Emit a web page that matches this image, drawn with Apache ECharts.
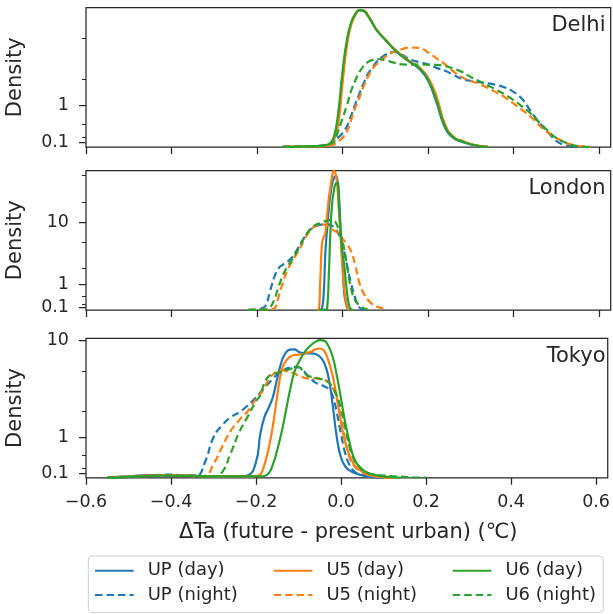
<!DOCTYPE html>
<html><head><meta charset="utf-8">
<script src="https://cdn.jsdelivr.net/npm/echarts@6/dist/echarts.min.js"></script>
<style>html,body{margin:0;padding:0;background:#fff}#c{width:613px;height:614px}</style>
</head><body><div id="c"></div>
<script>
// ---------- data ----------
const xTicks = [-0.6, -0.4, -0.2, 0, 0.2, 0.4, 0.6];
const yMajorTicks = [0.1, 1, 10];
const yMinorTicks = [0.2, 0.5, 2, 5, 20, 50];
const cities = ['Delhi', 'London', 'Tokyo'];
const seriesNames = ['UP (day)', 'UP (night)', 'U5 (day)', 'U5 (night)', 'U6 (day)', 'U6 (night)'];

// Delhi
const delhiX = [-0.14, -0.10, -0.06, -0.04, -0.03, -0.02, -0.01, 0.00, 0.01, 0.02, 0.03, 0.04, 0.05, 0.06, 0.07, 0.08, 0.10, 0.12, 0.14, 0.16, 0.18, 0.20, 0.22, 0.24, 0.26, 0.28, 0.30, 0.32, 0.34, 0.36, 0.38, 0.40, 0.42, 0.44, 0.46, 0.48, 0.50, 0.52, 0.54, 0.56, 0.58];
const delhiUPday = [0.002, 0.007, 0.018, 0.035, 0.06, 0.18, 0.65, 2.1, 4.5, 6.9, 8.4, 9.3, 9.15, 8.2, 7.05, 6.05, 4.9, 4.0, 3.4, 2.95, 2.55, 1.95, 1.1, 0.42, 0.19, 0.11, 0.055, 0.02, 0.005, 0, 0, 0, 0, 0, 0, 0, 0, 0, 0, 0, 0];
const delhiU5day = [0.002, 0.006, 0.015, 0.03, 0.05, 0.15, 0.5, 1.8, 4.2, 6.7, 8.3, 9.3, 9.2, 8.3, 7.1, 6.1, 4.95, 4.05, 3.45, 3.0, 2.65, 2.1, 1.3, 0.5, 0.22, 0.13, 0.065, 0.025, 0.006, 0, 0, 0, 0, 0, 0, 0, 0, 0, 0, 0, 0];
const delhiU6day = [0.002, 0.008, 0.02, 0.04, 0.07, 0.22, 0.8, 2.4, 4.8, 7.1, 8.6, 9.3, 9.1, 8.1, 7.0, 6.0, 4.9, 4.0, 3.4, 2.95, 2.6, 2.0, 1.15, 0.45, 0.2, 0.12, 0.06, 0.02, 0.005, 0, 0, 0, 0, 0, 0, 0, 0, 0, 0, 0, 0];
const delhiUPnight = [0.001, 0.005, 0.015, 0.03, 0.05, 0.11, 0.2, 0.3, 0.45, 0.72, 1.05, 1.42, 1.85, 2.3, 2.65, 3.0, 3.5, 3.75, 3.5, 3.15, 2.98, 2.83, 2.62, 2.45, 2.22, 2.02, 1.93, 1.87, 1.82, 1.75, 1.64, 1.47, 1.22, 0.85, 0.55, 0.33, 0.13, 0.04, 0.01, 0.003, 0];
const delhiU5night = [0.001, 0.004, 0.01, 0.02, 0.03, 0.06, 0.12, 0.2, 0.33, 0.6, 0.95, 1.28, 1.72, 2.15, 2.55, 2.85, 3.35, 3.74, 4.0, 4.13, 4.1, 3.7, 3.25, 2.83, 2.4, 2.1, 1.93, 1.8, 1.62, 1.45, 1.27, 1.07, 0.88, 0.7, 0.48, 0.32, 0.2, 0.1, 0.04, 0.015, 0.003];
const delhiU6night = [0.002, 0.006, 0.02, 0.04, 0.07, 0.12, 0.35, 0.65, 1.0, 1.5, 1.95, 2.4, 2.75, 3.0, 3.13, 3.2, 3.12, 2.95, 2.83, 2.82, 2.82, 2.82, 2.8, 2.72, 2.57, 2.38, 2.12, 1.92, 1.73, 1.55, 1.37, 1.18, 0.98, 0.78, 0.55, 0.36, 0.19, 0.1, 0.035, 0.008, 0.002];

// London
const londonDayX = [-0.07, -0.06, -0.056, -0.052, -0.048, -0.044, -0.040, -0.036, -0.032, -0.028, -0.024, -0.020, -0.016, -0.012, -0.008, -0.004, 0.000, 0.004, 0.008, 0.012, 0.016, 0.020, 0.024, 0.03, 0.04];
const londonUPday = [0, 0, 0.002, 0.005, 0.05, 0.6, 3.5, 8, 16, 27, 38, 46, 49, 44, 24, 7, 2.2, 0.6, 0.25, 0.03, 0.005, 0, 0, 0, 0];
const londonU5day = [0, 0.002, 0.01, 1.2, 4.8, 6.0, 7.0, 13, 23, 34, 50, 59, 53, 34, 13.5, 5.5, 2.2, 0.85, 0.27, 0.06, 0.01, 0, 0, 0, 0];
const londonU6day = [0, 0, 0.002, 0.003, 0.005, 0.01, 0.02, 0.05, 1.5, 8, 20, 30, 38, 39, 16.5, 7, 3.5, 2.2, 1.1, 0.45, 0.13, 0.03, 0.005, 0, 0];
const londonNightX = [-0.24, -0.22, -0.20, -0.19, -0.18, -0.17, -0.16, -0.15, -0.14, -0.13, -0.12, -0.11, -0.10, -0.09, -0.08, -0.07, -0.06, -0.05, -0.04, -0.03, -0.02, -0.01, 0.00, 0.01, 0.02, 0.03, 0.04, 0.05, 0.06, 0.07, 0.08, 0.09, 0.10];
const londonUPnight = [0, 0.005, 0.02, 0.05, 0.15, 0.65, 1.35, 1.95, 2.25, 2.5, 2.85, 3.55, 4.58, 5.9, 7.25, 8.3, 8.95, 9.3, 9.4, 9.23, 8.5, 6.9, 4.7, 2.3, 1.05, 0.42, 0.08, 0.01, 0.002, 0, 0, 0, 0];
const londonU5night = [0, 0.002, 0.01, 0.015, 0.02, 0.03, 0.05, 0.45, 1.05, 1.75, 2.4, 3.1, 4.0, 5.4, 6.9, 8.3, 9.1, 9.4, 9.2, 8.4, 7.6, 6.9, 5.7, 4.8, 3.7, 2.2, 1.03, 0.59, 0.35, 0.2, 0.12, 0.07, 0.02];
const londonU6night = [0, 0.003, 0.008, 0.01, 0.015, 0.08, 0.35, 0.85, 1.45, 2.05, 2.6, 3.3, 4.3, 5.8, 7.3, 8.6, 9.4, 9.95, 10.5, 10.9, 10.6, 8.2, 5.2, 2.3, 0.8, 0.33, 0.15, 0.06, 0.01, 0, 0, 0, 0];

// Tokyo
const tokyoX = [-0.60, -0.55, -0.50, -0.45, -0.40, -0.36, -0.34, -0.32, -0.30, -0.28, -0.26, -0.24, -0.22, -0.20, -0.19, -0.18, -0.17, -0.16, -0.15, -0.14, -0.13, -0.12, -0.11, -0.10, -0.09, -0.08, -0.07, -0.06, -0.05, -0.04, -0.03, -0.02, -0.01, 0.00, 0.01, 0.02, 0.03, 0.04, 0.06, 0.08, 0.10, 0.12, 0.14, 0.16, 0.18, 0.20];
const tokyoUPday = [0, 0.01, 0.03, 0.06, 0.04, 0.05, 0.04, 0.03, 0.03, 0.03, 0.03, 0.03, 0.05, 0.35, 1.1, 1.75, 2.2, 2.85, 4.3, 6.2, 7.6, 8.1, 8.15, 7.75, 7.5, 7.45, 7.45, 7.35, 6.95, 6.1, 4.5, 2.4, 1.0, 0.45, 0.25, 0.16, 0.11, 0.08, 0.03, 0.01, 0.003, 0, 0, 0, 0, 0];
const tokyoU5day = [0, 0.01, 0.02, 0.05, 0.06, 0.05, 0.04, 0.03, 0.03, 0.03, 0.03, 0.03, 0.03, 0.04, 0.07, 0.3, 0.7, 1.42, 2.9, 5.1, 6.3, 6.9, 7.2, 7.25, 7.35, 7.55, 7.75, 8.15, 8.3, 7.9, 6.4, 4.6, 2.8, 1.5, 0.85, 0.5, 0.3, 0.2, 0.08, 0.03, 0.01, 0.003, 0, 0, 0, 0];
const tokyoU6day = [0, 0.005, 0.02, 0.04, 0.05, 0.04, 0.04, 0.03, 0.03, 0.03, 0.03, 0.03, 0.03, 0.03, 0.03, 0.04, 0.1, 0.3, 0.65, 1.15, 2.0, 3.3, 4.9, 6.1, 7.2, 8.2, 9.0, 9.6, 9.95, 9.85, 8.8, 7.0, 4.6, 2.7, 1.5, 0.85, 0.45, 0.28, 0.12, 0.06, 0.03, 0.012, 0.004, 0, 0, 0];
const tokyoUPnight = [0, 0.005, 0.01, 0.05, 0.07, 0.05, 0.05, 0.35, 1.0, 1.4, 1.73, 1.95, 2.3, 2.8, 3.1, 3.5, 3.85, 4.3, 4.7, 5.0, 5.3, 5.45, 5.55, 5.5, 5.2, 4.6, 4.2, 3.9, 3.75, 3.6, 3.4, 2.9, 1.95, 1.1, 0.55, 0.28, 0.15, 0.09, 0.04, 0.015, 0.005, 0, 0, 0, 0, 0];
const tokyoU5night = [0, 0.01, 0.03, 0.05, 0.05, 0.04, 0.03, 0.04, 0.3, 0.72, 1.2, 1.6, 2.0, 2.7, 3.0, 3.5, 4.2, 4.7, 5.0, 5.2, 5.05, 4.95, 4.8, 4.55, 4.4, 4.3, 4.3, 4.3, 4.25, 4.15, 3.95, 3.5, 2.7, 1.7, 0.9, 0.45, 0.27, 0.18, 0.08, 0.035, 0.012, 0.004, 0, 0, 0, 0];
const tokyoU6night = [0, 0.005, 0.02, 0.04, 0.05, 0.04, 0.04, 0.03, 0.03, 0.12, 0.55, 1.15, 1.75, 2.55, 2.95, 3.9, 4.5, 4.75, 4.85, 4.98, 5.15, 5.25, 5.5, 5.5, 5.1, 4.6, 4.45, 4.35, 4.25, 4.15, 3.95, 3.55, 2.9, 2.1, 1.3, 0.72, 0.42, 0.27, 0.11, 0.07, 0.05, 0.035, 0.025, 0.015, 0.007, 0.003];

// ---------- chart ----------
const FONT = 'DejaVu Sans';
const INK = '#262626';
const COLORS = {UP: '#1f77b4', U5: '#ff7f0e', U6: '#2ca02c'};
// panel layout (pixels) and upper limit of the asinh-scaled y axis
const layout = [
  {top: 7.5, height: 139.5, ymax: 2.98},
  {top: 170.5, height: 139.5, ymax: 4.78},
  {top: 338.3, height: 139.5, ymax: 3.035}
];
const XMIN = -0.6, XMAX = 0.6274;

const defs = [
  [0, 'UP (day)', delhiX, delhiUPday], [0, 'UP (night)', delhiX, delhiUPnight],
  [0, 'U5 (day)', delhiX, delhiU5day], [0, 'U5 (night)', delhiX, delhiU5night],
  [0, 'U6 (day)', delhiX, delhiU6day], [0, 'U6 (night)', delhiX, delhiU6night],
  [1, 'UP (day)', londonDayX, londonUPday], [1, 'UP (night)', londonNightX, londonUPnight],
  [1, 'U5 (day)', londonDayX, londonU5day], [1, 'U5 (night)', londonNightX, londonU5night],
  [1, 'U6 (day)', londonDayX, londonU6day], [1, 'U6 (night)', londonNightX, londonU6night],
  [2, 'UP (day)', tokyoX, tokyoUPday], [2, 'UP (night)', tokyoX, tokyoUPnight],
  [2, 'U5 (day)', tokyoX, tokyoU5day], [2, 'U5 (night)', tokyoX, tokyoU5night],
  [2, 'U6 (day)', tokyoX, tokyoU6day], [2, 'U6 (night)', tokyoX, tokyoU6night]
];

const fmtX = v => (Math.abs(v) < 1e-9 ? '0.0' : (v < 0 ? '\u2212' : '') + Math.abs(v).toFixed(1));
const fmtY = v => {
  let best = yMajorTicks[0];
  yMajorTicks.forEach(t => { if (Math.abs(Math.asinh(t) - v) < Math.abs(Math.asinh(best) - v)) best = t; });
  return String(best);
};

const grids = [], xAxes = [], yAxes = [];
layout.forEach((p, i) => {
  grids.push({left: 86, right: 2.3, top: p.top, height: p.height, show: true,
    borderColor: INK, borderWidth: 1.25, backgroundColor: 'transparent'});
  xAxes.push({type: 'value', gridIndex: i, min: XMIN, max: XMAX, position: 'bottom',
    axisLine: {show: false, onZero: false}, splitLine: {show: false},
    axisTick: {show: true, length: 7, customValues: xTicks, lineStyle: {color: INK, width: 1.25}},
    axisLabel: {show: i === 2, customValues: xTicks, formatter: fmtX, margin: 16,
      fontSize: 17.5, fontFamily: FONT, color: INK}});
  const maj = yMajorTicks.map(Math.asinh).filter(v => v <= p.ymax);
  const min = yMinorTicks.map(Math.asinh).filter(v => v <= p.ymax);
  yAxes.push({type: 'value', gridIndex: i, min: 0, max: p.ymax, position: 'left', offset: 0,
    axisLine: {show: false, onZero: false}, splitLine: {show: false},
    axisTick: {show: true, length: 7, customValues: maj, lineStyle: {color: INK, width: 1.25}},
    axisLabel: {show: true, customValues: maj, formatter: fmtY, margin: 17,
      fontSize: 17.5, fontFamily: FONT, color: INK}});
  yAxes.push({type: 'value', gridIndex: i, min: 0, max: p.ymax, position: 'left', offset: 0,
    axisLine: {show: false, onZero: false}, splitLine: {show: false},
    axisTick: {show: true, length: 4, customValues: min, lineStyle: {color: INK, width: 1}},
    axisLabel: {show: false}});
});

// only the part of each curve where the density estimate is positive is drawn
const series = defs.map(([pi, name, xs, ys]) => {
  const key = name.slice(0, 2);
  const night = name.indexOf('night') >= 0;
  const pts = [];
  xs.forEach((x, k) => { if (ys[k] > 0) pts.push([x, Math.asinh(ys[k])]); });
  return {
    type: 'line', name: name, xAxisIndex: pi, yAxisIndex: pi * 2,
    data: pts,
    showSymbol: false, symbol: 'none', smooth: 0.5,
    color: COLORS[key],
    lineStyle: {color: COLORS[key], width: 2.2, type: night ? [7.5, 4] : 'solid', cap: 'butt'},
    emphasis: {disabled: true}, silent: true
  };
});

const legendCols = [94, 272.7, 451.7];
const legendRows = [559.7, 584];
const legends = [];
['UP', 'U5', 'U6'].forEach((k, c) => {
  ['day', 'night'].forEach((d, r) => {
    legends.push({show: true, data: [k + ' (' + d + ')'], left: legendCols[c], top: legendRows[r],
      orient: 'horizontal', padding: 0, itemGap: 0, itemWidth: 38.7, itemHeight: 14,
      selectedMode: false,
      itemStyle: {opacity: 0, color: 'rgba(0,0,0,0)', borderWidth: 0},
      textStyle: {fontSize: 18, fontFamily: FONT, color: INK, lineHeight: 22, padding: [0, 0, 0, 9]}});
  });
});

const txt = (x, y, text, size, align, rot) => ({type: 'text', x: x, y: y, rotation: rot || 0, silent: true,
  style: {text: text, fontSize: size, fontFamily: FONT, fill: INK, align: align, verticalAlign: 'middle'}});

const graphic = [
  {type: 'rect', z: 0, silent: true, shape: {x: 88.3, y: 556, width: 515, height: 56.7, r: 4},
    style: {fill: 'rgba(255,255,255,0.8)', stroke: '#cccccc', lineWidth: 1}},
  txt(605.5, 25.8, cities[0], 21, 'right'),
  txt(605.5, 188.8, cities[1], 21, 'right'),
  txt(605.5, 356.3, cities[2], 21, 'right'),
  txt(16, 77.25, 'Density', 21, 'center', Math.PI / 2),
  txt(16, 240.25, 'Density', 21, 'center', Math.PI / 2),
  txt(16, 408, 'Density', 21, 'center', Math.PI / 2),
  txt(348.3, 532.4, '\u0394Ta (future - present urban) (\u2103)', 21, 'center')
];

const chart = echarts.init(document.getElementById('c'), null, {renderer: 'canvas'});
chart.setOption({
  animation: false,
  backgroundColor: '#ffffff',
  grid: grids, xAxis: xAxes, yAxis: yAxes,
  series: series, legend: legends, graphic: graphic
});
</script>
</body></html>
